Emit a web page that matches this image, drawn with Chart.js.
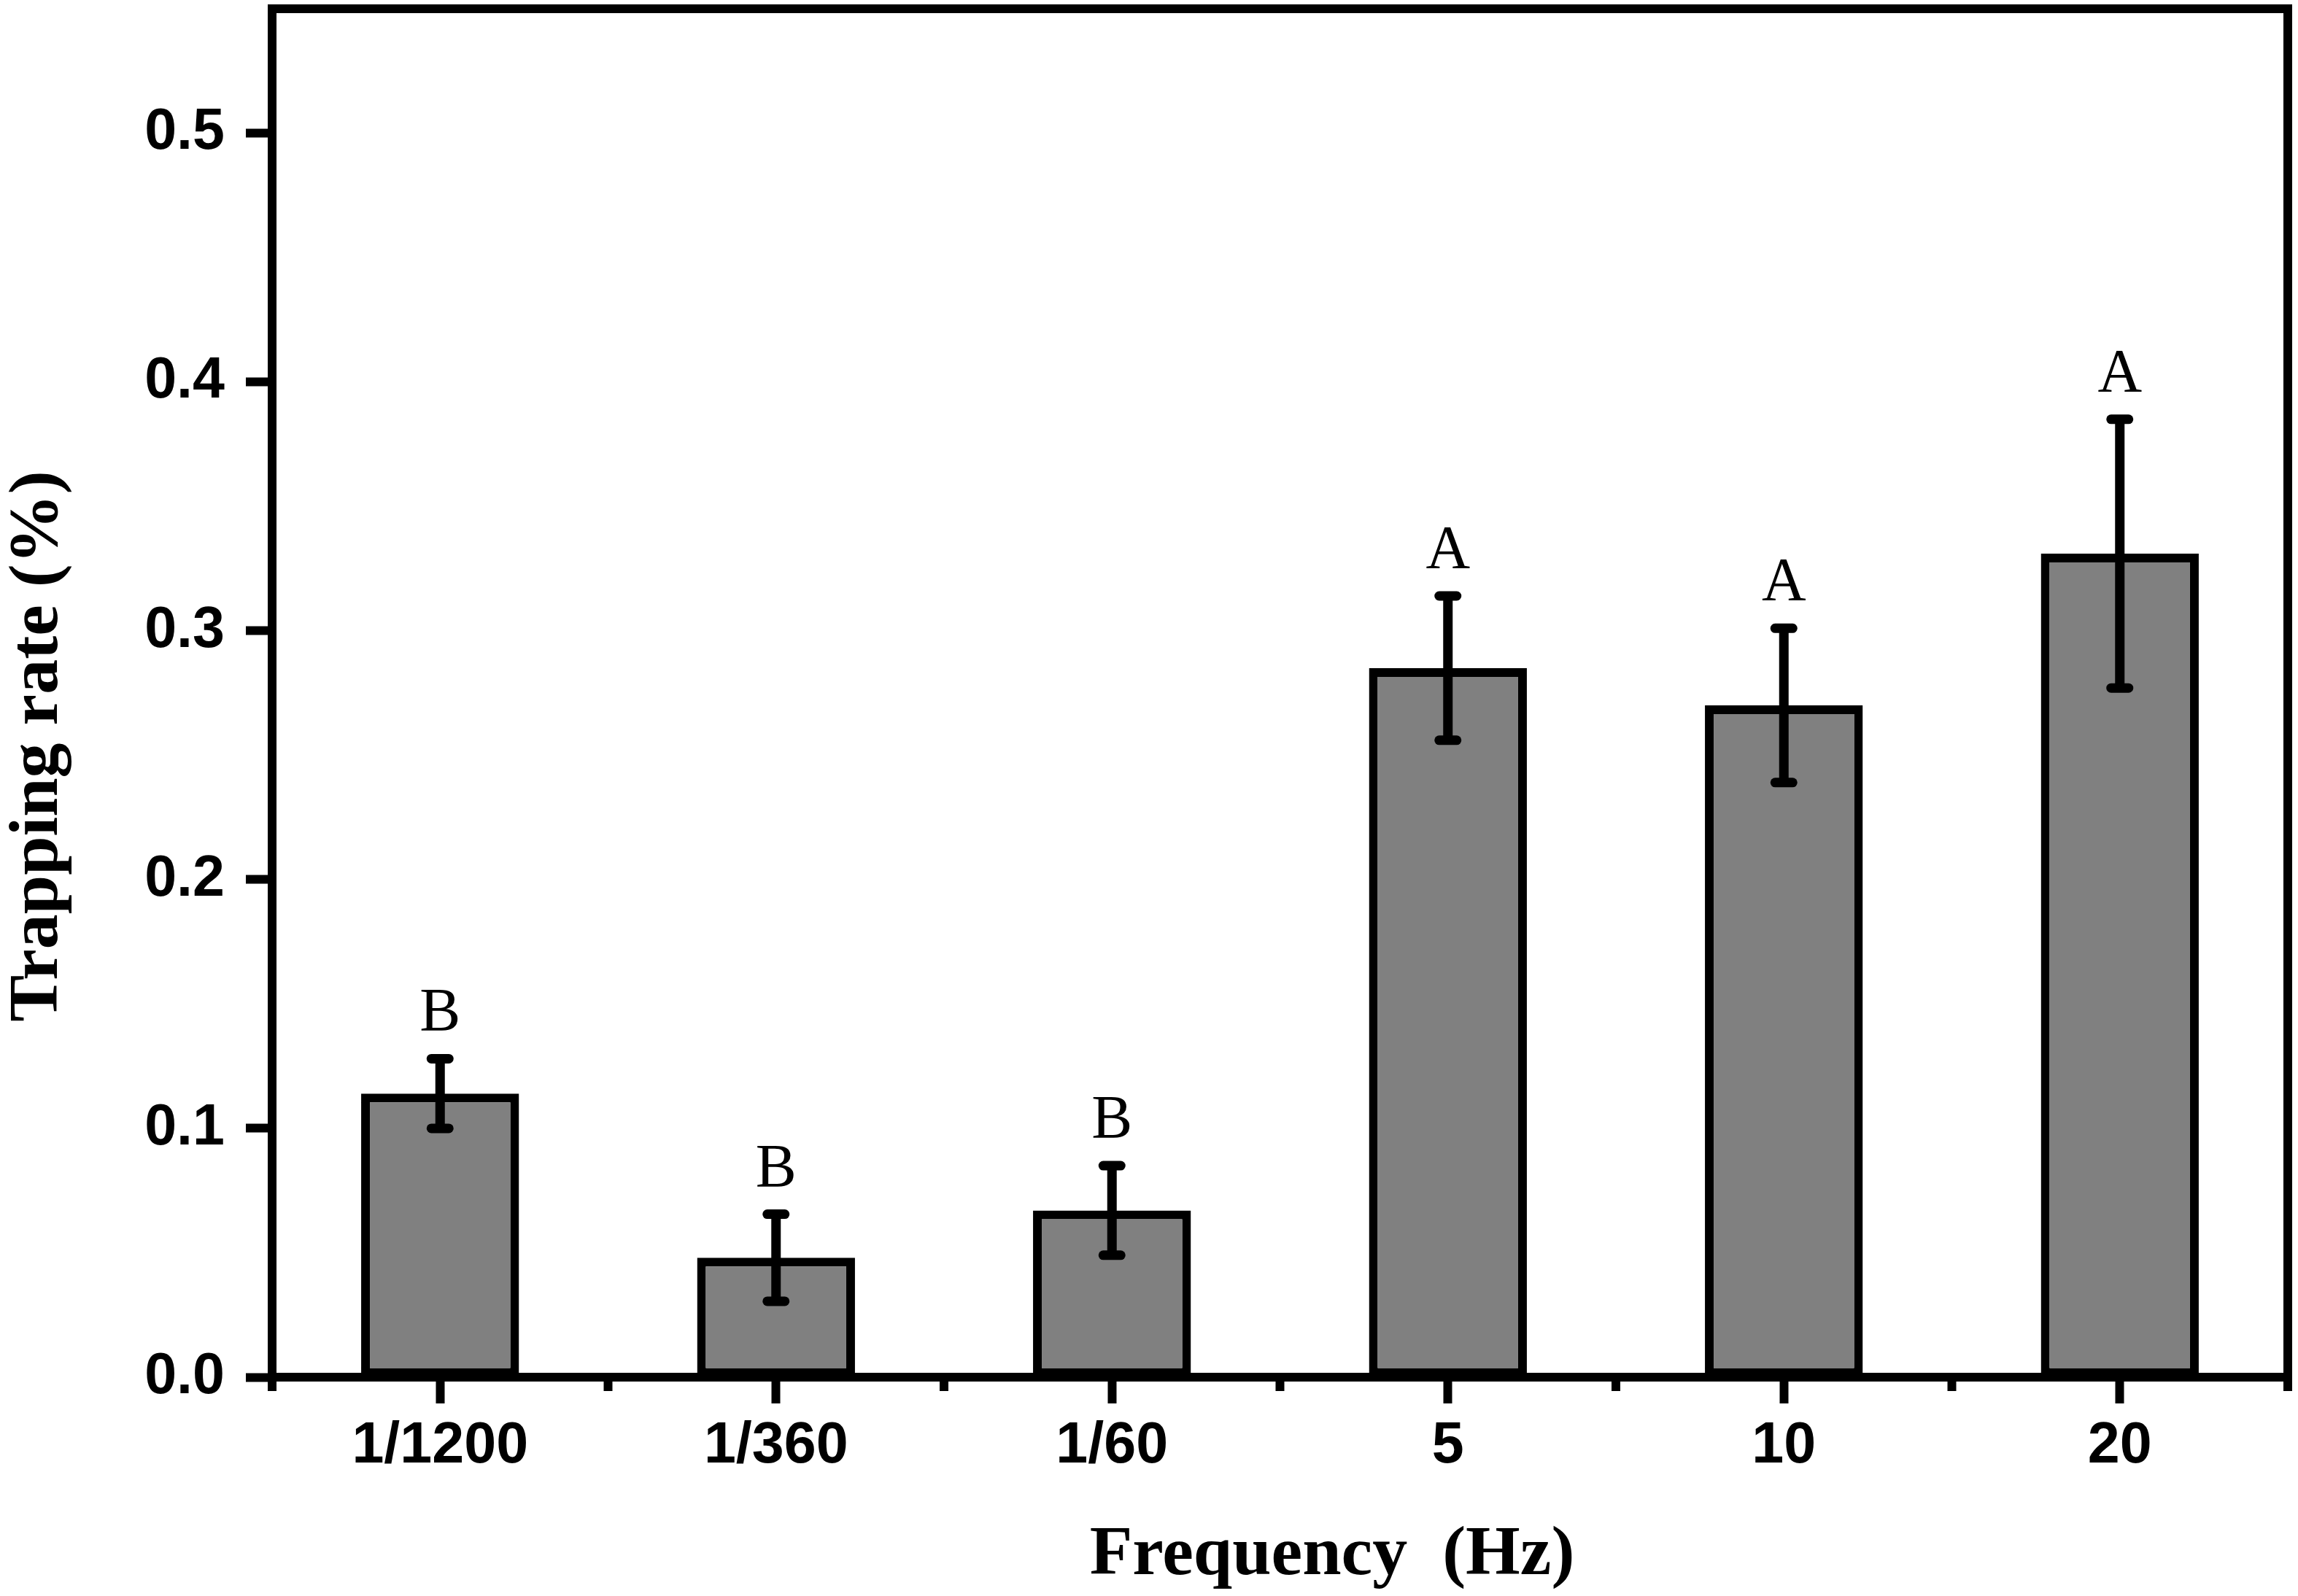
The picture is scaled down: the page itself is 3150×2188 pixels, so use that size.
<!DOCTYPE html>
<html>
<head>
<meta charset="utf-8">
<script src="https://cdn.jsdelivr.net/npm/chart.js@4.4.1/dist/chart.umd.min.js"></script>
<style>
  html, body { margin: 0; padding: 0; background: #ffffff; }
  #wrap { width: 3150px; height: 2188px; position: relative; }
</style>
</head>
<body>
<div id="wrap"><canvas id="c" width="3150" height="2188"></canvas></div>
<script>
// ---- data ----
const categories = ['1/1200', '1/360', '1/60', '5', '10', '20'];
const means = [0.114, 0.048, 0.067, 0.285, 0.270, 0.331];
const errors = [0.014, 0.0175, 0.018, 0.029, 0.031, 0.054];
const letters = ['B', 'B', 'B', 'A', 'A', 'A'];
const yTicks = [0.0, 0.1, 0.2, 0.3, 0.4, 0.5];
const xTitle = 'Frequency  (Hz)';
const yTitle = 'Trapping rate (%)';

const LINE = 12;

function noPad(scale) {
  scale.paddingTop = 0;
  scale.paddingBottom = 0;
  scale.paddingLeft = 0;
  scale.paddingRight = 0;
}

const decorPlugin = {
  id: 'decor',
  afterDatasetsDraw(chart) {
    const ctx = chart.ctx;
    const ca = chart.chartArea;
    const xs = chart.scales.x;
    const ys = chart.scales.y;
    ctx.save();
    // top and right frame
    ctx.strokeStyle = '#000';
    ctx.lineWidth = LINE;
    ctx.lineCap = 'square';
    ctx.beginPath();
    ctx.moveTo(ca.left, ca.top);
    ctx.lineTo(ca.right, ca.top);
    ctx.lineTo(ca.right, ca.bottom);
    ctx.stroke();

    // minor ticks at category boundaries
    ctx.lineCap = 'butt';
    ctx.lineWidth = LINE;
    const n = categories.length;
    for (let i = 0; i <= n; i++) {
      let x;
      if (i === 0) x = ca.left;
      else if (i === n) x = ca.right;
      else x = (xs.getPixelForValue(i - 1) + xs.getPixelForValue(i)) / 2;
      ctx.beginPath();
      ctx.moveTo(x, ca.bottom);
      ctx.lineTo(x, ca.bottom + 19);
      ctx.stroke();
    }

    // error bars
    for (let i = 0; i < n; i++) {
      const x = xs.getPixelForValue(i);
      const yTop = ys.getPixelForValue(means[i] + errors[i]);
      const yBot = ys.getPixelForValue(means[i] - errors[i]);
      ctx.lineWidth = 13;
      ctx.lineCap = 'butt';
      ctx.beginPath();
      ctx.moveTo(x, yTop);
      ctx.lineTo(x, yBot);
      ctx.stroke();
      ctx.lineWidth = 13;
      ctx.lineCap = 'round';
      [yTop, yBot].forEach(y => {
        ctx.beginPath();
        ctx.moveTo(x - 12, y);
        ctx.lineTo(x + 12, y);
        ctx.stroke();
      });
      // significance letters
      ctx.fillStyle = '#000';
      ctx.font = '84px "Liberation Serif", "Times New Roman", serif';
      ctx.textAlign = 'center';
      ctx.textBaseline = 'alphabetic';
      ctx.fillText(letters[i], x, yTop - 38);
    }

    // axis titles
    ctx.fillStyle = '#000';
    ctx.font = 'bold 96px "Liberation Serif", "Times New Roman", serif';
    ctx.textAlign = 'center';
    ctx.textBaseline = 'alphabetic';
    ctx.fillText(xTitle, 1826, 2158);

    ctx.save();
    ctx.translate(78, 1023);
    ctx.rotate(-Math.PI / 2);
    ctx.fillText(yTitle, 0, 0);
    ctx.restore();

    ctx.restore();
  }
};

new Chart(document.getElementById('c'), {
  type: 'bar',
  data: {
    labels: categories,
    datasets: [{
      data: means,
      backgroundColor: '#808080',
      borderColor: '#000000',
      borderWidth: LINE,
      borderSkipped: false,
      barPercentage: 0.47,
      categoryPercentage: 1.0
    }]
  },
  options: {
    responsive: false,
    animation: false,
    devicePixelRatio: 1,
    layout: { padding: { left: 0, top: 12, right: 14, bottom: 0 } },
    plugins: { legend: { display: false }, tooltip: { enabled: false }, title: { display: false } },
    scales: {
      x: {
        type: 'category',
        offset: true,
        afterFit(scale) { scale.height = 300; noPad(scale); },
        border: { display: true, color: '#000', width: LINE },
        grid: {
          offset: false,
          drawOnChartArea: false,
          drawTicks: true,
          tickLength: 36,
          tickWidth: LINE,
          tickColor: '#000',
          color: '#000'
        },
        ticks: {
          color: '#000',
          padding: 12,
          maxRotation: 0,
          font: { family: '"Liberation Sans", Arial, sans-serif', size: 79, weight: 'bold' }
        }
      },
      y: {
        min: 0,
        max: 0.55,
        afterFit(scale) { scale.width = 373; noPad(scale); },
        afterBuildTicks(scale) { scale.ticks = yTicks.map(v => ({ value: v })); },
        border: { display: true, color: '#000', width: LINE },
        grid: {
          drawOnChartArea: false,
          drawTicks: true,
          tickLength: 36,
          tickWidth: LINE,
          tickColor: '#000',
          color: '#000'
        },
        ticks: {
          color: '#000',
          padding: 29,
          callback: v => Number(v).toFixed(1),
          font: { family: '"Liberation Sans", Arial, sans-serif', size: 79, weight: 'bold' }
        }
      }
    }
  },
  plugins: [decorPlugin]
});
</script>
</body>
</html>
